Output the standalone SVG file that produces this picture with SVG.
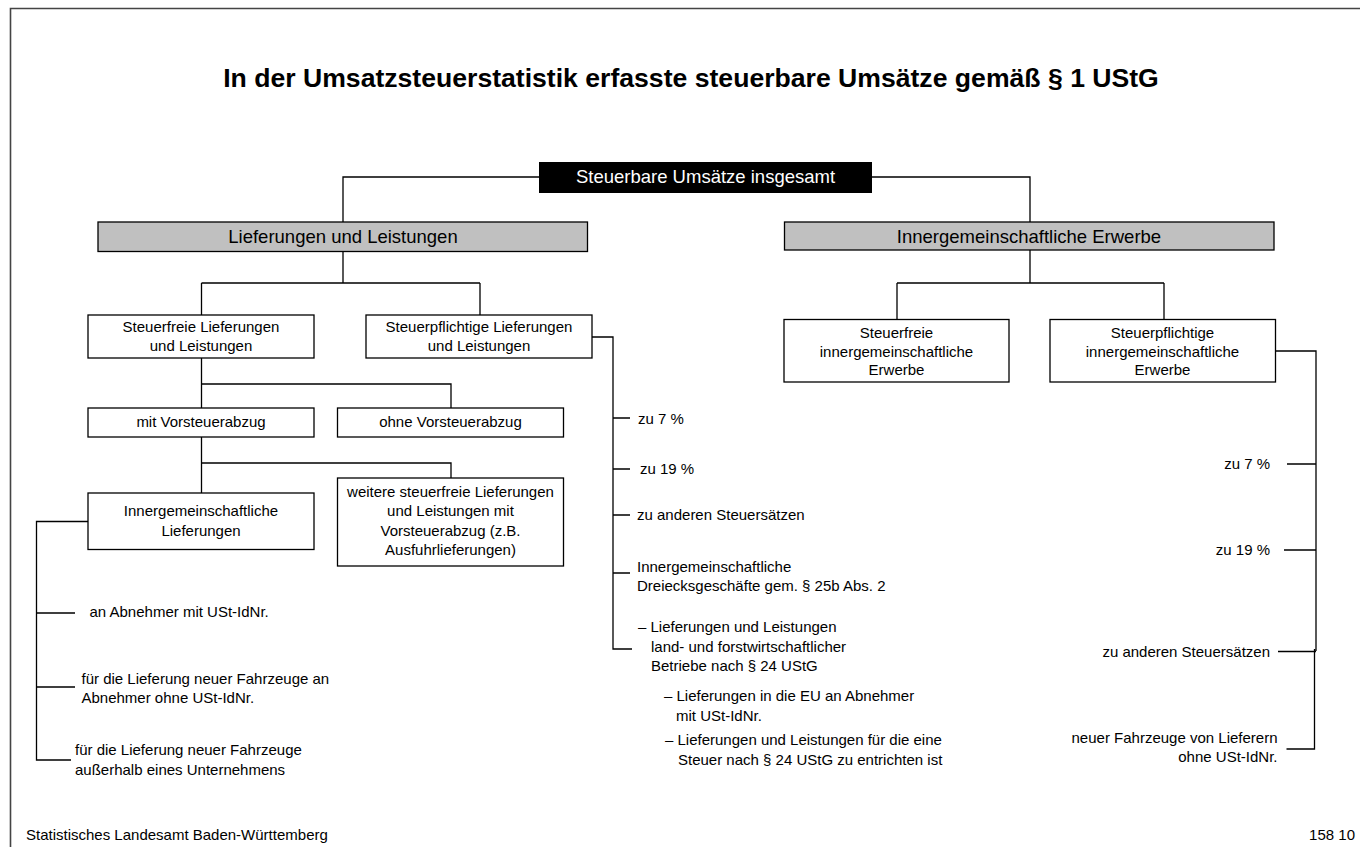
<svg xmlns="http://www.w3.org/2000/svg" width="1360" height="847" viewBox="0 0 1360 847">
<style>
text{font-family:"Liberation Sans",Arial,sans-serif;fill:#000}
.t{font-size:26.6px;font-weight:bold;text-anchor:middle}
.h{font-size:18.5px;text-anchor:middle}
.b{font-size:15px;text-anchor:middle}
.s{font-size:15px}
.e{font-size:15px;text-anchor:end}
.box{fill:#fff;stroke:#000;stroke-width:1.3}
.gray{fill:#c0c0c0;stroke:#000;stroke-width:1.3}
.conn{fill:none;stroke:#000;stroke-width:1.3}
</style>
<rect width="1360" height="847" fill="#fff"/>
<path d="M10.5,847 V8.5 H1360" fill="none" stroke="#444" stroke-width="1.6"/>
<text class="t" x="691" y="87">In der Umsatzsteuerstatistik erfasste steuerbare Umsätze gemäß § 1 UStG</text>

<g id="connectors" class="conn">
<path d="M539,177 H343 V222"/>
<path d="M872,177 H1030 V222"/>
<path d="M343,251 V283 M201.5,283 H480 M201.5,283 V315 M480,283 V315"/>
<path d="M1030,250 V283 M897,283 H1164 M897,283 V319.5 M1164,283 V319.5"/>
<path d="M201.5,358 V408 M201.5,384 H451 V408"/>
<path d="M201.5,437 V493 M201.5,463 H451 V478"/>
<path d="M88,521.5 H36.5 V760 H71 M36.5,613 H75 M36.5,687 H75"/>
<path d="M592,337 H613 V649 H632 M613,418 H630 M613,469 H630 M613,515 H630 M613,573 H630"/>
<path d="M1275.5,351 H1316 V651 M1287,464 H1316 M1284,550 H1316 M1278,651.5 H1316 M1314.5,649 V749 H1286.5"/>
</g>

<g id="root">
<rect x="539" y="162" width="333" height="31" fill="#000"/>
<text class="h" x="705.5" y="183" style="fill:#fff">Steuerbare Umsätze insgesamt</text>
</g>
<g id="lieferungen">
<rect class="gray" x="98" y="222" width="489.5" height="29.5"/>
<text class="h" x="343" y="243">Lieferungen und Leistungen</text>
</g>
<g id="erwerbe">
<rect class="gray" x="784.5" y="222" width="489.5" height="28"/>
<text class="h" x="1029" y="242.5">Innergemeinschaftliche Erwerbe</text>
</g>
<g id="steuerfrei-ll">
<rect class="box" x="88" y="315" width="226" height="43"/>
<text class="b" x="201" y="332">Steuerfreie Lieferungen</text>
<text class="b" x="201" y="350.5">und Leistungen</text>
</g>
<g id="steuerpflichtig-ll">
<rect class="box" x="366" y="315" width="226" height="43"/>
<text class="b" x="479" y="332">Steuerpflichtige Lieferungen</text>
<text class="b" x="479" y="350.5">und Leistungen</text>
</g>
<g id="steuerfrei-ie">
<rect class="box" x="784" y="319.5" width="225" height="62.5"/>
<text class="b" x="896.5" y="338">Steuerfreie</text>
<text class="b" x="896.5" y="356.5">innergemeinschaftliche</text>
<text class="b" x="896.5" y="375">Erwerbe</text>
</g>
<g id="steuerpflichtig-ie">
<rect class="box" x="1050" y="319.5" width="225.5" height="62.5"/>
<text class="b" x="1162.5" y="338">Steuerpflichtige</text>
<text class="b" x="1162.5" y="356.5">innergemeinschaftliche</text>
<text class="b" x="1162.5" y="375">Erwerbe</text>
</g>
<g id="mit-vorsteuer">
<rect class="box" x="88" y="408" width="226" height="29"/>
<text class="b" x="201" y="427">mit Vorsteuerabzug</text>
</g>
<g id="ohne-vorsteuer">
<rect class="box" x="337.5" y="408" width="226" height="29"/>
<text class="b" x="450.5" y="427">ohne Vorsteuerabzug</text>
</g>
<g id="ig-lieferungen">
<rect class="box" x="88" y="493" width="226" height="56.5"/>
<text class="b" x="201" y="516">Innergemeinschaftliche</text>
<text class="b" x="201" y="535.5">Lieferungen</text>
</g>
<g id="weitere">
<rect class="box" x="337.5" y="478" width="226" height="88"/>
<text class="b" x="450.5" y="497">weitere steuerfreie Lieferungen</text>
<text class="b" x="450.5" y="516">und Leistungen mit</text>
<text class="b" x="450.5" y="535.5">Vorsteuerabzug (z.B.</text>
<text class="b" x="450.5" y="555">Ausfuhrlieferungen)</text>
</g>

<g id="ig-lieferungen-items">
<text class="s" x="89.5" y="617">an Abnehmer mit USt-IdNr.</text>
<text class="s" x="81.5" y="683.5">für die Lieferung neuer Fahrzeuge an</text>
<text class="s" x="81.5" y="703">Abnehmer ohne USt-IdNr.</text>
<text class="s" x="75" y="755">für die Lieferung neuer Fahrzeuge</text>
<text class="s" x="75" y="774.5">außerhalb eines Unternehmens</text>
</g>
<g id="steuerpflichtig-ll-items">
<text class="s" x="638" y="423.5">zu 7 %</text>
<text class="s" x="640" y="474">zu 19 %</text>
<text class="s" x="637" y="520">zu anderen Steuersätzen</text>
<text class="s" x="637" y="572">Innergemeinschaftliche</text>
<text class="s" x="637" y="591">Dreiecksgeschäfte gem. § 25b Abs. 2</text>
<text class="s" x="638" y="632">– Lieferungen und Leistungen</text>
<text class="s" x="651" y="651.5">land- und forstwirtschaftlicher</text>
<text class="s" x="651" y="671">Betriebe nach § 24 UStG</text>
<text class="s" x="664" y="700.5">– Lieferungen in die EU an Abnehmer</text>
<text class="s" x="676" y="720.5">mit USt-IdNr.</text>
<text class="s" x="665" y="745">– Lieferungen und Leistungen für die eine</text>
<text class="s" x="678" y="765">Steuer nach § 24 UStG zu entrichten ist</text>
</g>
<g id="steuerpflichtig-ie-items">
<text class="e" x="1270" y="468.5">zu 7 %</text>
<text class="e" x="1270" y="554.5">zu 19 %</text>
<text class="e" x="1270" y="656.5">zu anderen Steuersätzen</text>
<text class="e" x="1277.5" y="742.5">neuer Fahrzeuge von Lieferern</text>
<text class="e" x="1277.5" y="761.5">ohne USt-IdNr.</text>
</g>

<text class="s" x="26" y="840">Statistisches Landesamt Baden-Württemberg</text>
<text class="e" x="1355" y="840">158 10</text>
</svg>
